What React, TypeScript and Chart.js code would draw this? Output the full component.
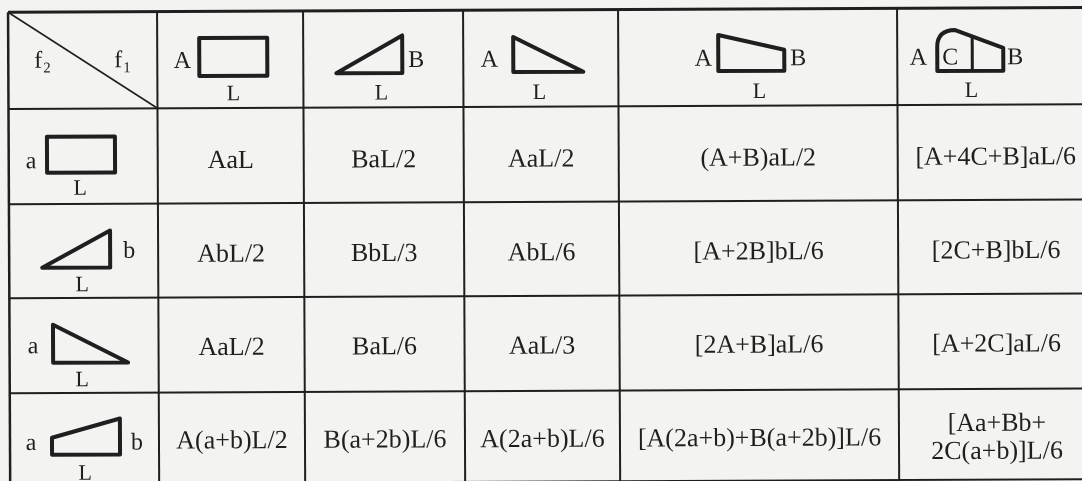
import { useEffect, useRef } from "react";
import { Chart, registerables } from "chart.js";

Chart.register(...registerables);

// ---------------- data ----------------
// header row: diagram kind of f1 and its labels
const colKinds = ["rect", "rise", "fall", "trap", "para"];
const colLeftLabels = ["A", "", "A", "A", "A"];
const colRightLabels = ["", "B", "", "B", "B"];
const colMidLabels = ["", "", "", "", "C"];
const colBaseLabels = ["L", "L", "L", "L", "L"];

// first column: diagram kind of f2 and its labels
const rowKinds = ["rect", "rise", "fall", "trap"];
const rowLeftLabels = ["a", "", "a", "a"];
const rowRightLabels = ["", "b", "", "b"];
const rowBaseLabels = ["L", "L", "L", "L"];

// corner cell
const cornerLabels = [
  ["f", "2"],
  ["f", "1"],
];

// results table
const formulasRect = ["AaL", "BaL/2", "AaL/2", "(A+B)aL/2", "[A+4C+B]aL/6"];
const formulasRise = ["AbL/2", "BbL/3", "AbL/6", "[A+2B]bL/6", "[2C+B]bL/6"];
const formulasFall = ["AaL/2", "BaL/6", "AaL/3", "[2A+B]aL/6", "[A+2C]aL/6"];
const formulasTrap = [
  "A(a+b)L/2",
  "B(a+2b)L/6",
  "A(2a+b)L/6",
  "[A(2a+b)+B(a+2b)]L/6",
  "[Aa+Bb+\n2C(a+b)]L/6",
];
const formulaRows = [formulasRect, formulasRise, formulasFall, formulasTrap];

// ---------------- layout / style ----------------
const W = 1082;
const H = 481;
const COL_EDGES = [8, 157, 303, 463, 618, 897, 1093];
const ROW_EDGES = [12.3, 109, 204.3, 298.3, 393.3, 484];
const TILT = -0.0045;
const BG = "#f3f3f1";
const INK = "#1f1f1f";
const SERIF = '"Liberation Serif", "Times New Roman", serif';

// icon layout in header cells (relative to cell left / top)
const HEADER_ICON = [
  { x: 42, b: 64.7, w: 68, hL: 38, hR: 38, aX: -17, bX: 0, lX: 34 },
  { x: 33, b: 62.4, w: 66, hL: 0, hR: 37.5, aX: 0, bX: 14, lX: 45 },
  { x: 50, b: 62, w: 70, hL: 35, hR: 0, aX: -24, bX: 0, lX: 26 },
  { x: 100, b: 62, w: 66, hL: 36, hR: 21, aX: -15, bX: 14, lX: 41 },
  { x: 40, b: 63, w: 66, hL: 24, hR: 23, aX: -19, bX: 12, lX: 34, peak: 41, peakX: 18, midX: 35, cX: 13 },
];
const HEADER_SIDE_BASE = 56.5;
const HEADER_L_BASE = 89;

const ROW_ICON = [
  { x: 38.3, b: 64, w: 68, hL: 36, hR: 36, aX: -16, bX: 0, lX: 33, sideBase: 59.3, lBase: 86 },
  { x: 33, b: 63.7, w: 68, hL: 0, hR: 37, aX: 0, bX: 19, lX: 40, sideBase: 54, lBase: 87.4 },
  { x: 43.5, b: 64.7, w: 75, hL: 38, hR: 0, aX: -20, bX: 0, lX: 29, sideBase: 55, lBase: 88.4 },
  { x: 42, b: 61.7, w: 68, hL: 17, hR: 36, aX: -21, bX: 17, lX: 33, sideBase: 56.7, lBase: 86.7 },
];
const FORMULA_BASE = [60, 58.4, 57.7, 56];
const FORMULA_LINE = 28;

type Icon = {
  x: number; b: number; w: number; hL: number; hR: number;
  aX: number; bX: number; lX: number;
  peak?: number; peakX?: number; midX?: number; cX?: number;
};

const tablePlugin = {
  id: "formulaTable",
  beforeDraw(chart: any) {
    const { ctx } = chart;
    ctx.save();
    ctx.fillStyle = BG;
    ctx.fillRect(0, 0, chart.width, chart.height);
    ctx.restore();
  },
  afterDraw(chart: any) {
    const { ctx } = chart;
    const xs = chart.scales.x;
    const ys = chart.scales.y;
    const px = (v: number) => xs.getPixelForValue(v);
    const py = (v: number) => ys.getPixelForValue(v);

    ctx.save();
    ctx.rotate(TILT);
    ctx.strokeStyle = INK;
    ctx.fillStyle = INK;
    ctx.lineCap = "butt";

    const x0 = COL_EDGES[0];
    const x1 = COL_EDGES[COL_EDGES.length - 1];
    const y0 = ROW_EDGES[0];
    const y1 = ROW_EDGES[ROW_EDGES.length - 1];

    // grid lines
    ROW_EDGES.forEach((r, i) => {
      ctx.lineWidth = i === 0 ? 3 : 2;
      ctx.beginPath();
      ctx.moveTo(px(x0), py(r));
      ctx.lineTo(px(x1), py(r));
      ctx.stroke();
    });
    COL_EDGES.forEach((c, i) => {
      ctx.lineWidth = i === 0 ? 2.5 : 2;
      ctx.beginPath();
      ctx.moveTo(px(c), py(y0));
      ctx.lineTo(px(c), py(y1));
      ctx.stroke();
    });

    // corner diagonal
    ctx.lineWidth = 1.6;
    ctx.beginPath();
    ctx.moveTo(px(COL_EDGES[0]), py(ROW_EDGES[0]));
    ctx.lineTo(px(COL_EDGES[1]), py(ROW_EDGES[1]));
    ctx.stroke();

    // corner labels f2 / f1
    const cornerX = [COL_EDGES[0] + 26, COL_EDGES[0] + 106];
    cornerLabels.forEach(([main, sub], i) => {
      const bx = px(cornerX[i]);
      const by = py(ROW_EDGES[0] + 55.5);
      ctx.textAlign = "left";
      ctx.textBaseline = "alphabetic";
      ctx.font = `24px ${SERIF}`;
      ctx.fillText(main, bx, by);
      const wMain = ctx.measureText(main).width;
      ctx.font = `15px ${SERIF}`;
      ctx.fillText(sub, bx + wMain + 1, by + 5);
    });

    const drawIcon = (kind: string, cl: number, ct: number, ic: Icon) => {
      const L = cl + ic.x;
      const B = ct + ic.b;
      const R = L + ic.w;
      ctx.lineWidth = 4;
      ctx.lineJoin = "round";
      ctx.beginPath();
      if (kind === "rect") {
        ctx.moveTo(px(L), py(B));
        ctx.lineTo(px(L), py(B - ic.hL));
        ctx.lineTo(px(R), py(B - ic.hR));
        ctx.lineTo(px(R), py(B));
        ctx.closePath();
      } else if (kind === "rise") {
        ctx.moveTo(px(L), py(B));
        ctx.lineTo(px(R), py(B - ic.hR));
        ctx.lineTo(px(R), py(B));
        ctx.closePath();
      } else if (kind === "fall") {
        ctx.moveTo(px(L), py(B - ic.hL));
        ctx.lineTo(px(L), py(B));
        ctx.lineTo(px(R), py(B));
        ctx.closePath();
      } else if (kind === "trap") {
        ctx.moveTo(px(L), py(B));
        ctx.lineTo(px(L), py(B - ic.hL));
        ctx.lineTo(px(R), py(B - ic.hR));
        ctx.lineTo(px(R), py(B));
        ctx.closePath();
      } else if (kind === "para") {
        const pk = ic.peak ?? 40;
        const pkx = L + (ic.peakX ?? 18);
        ctx.moveTo(px(L), py(B));
        ctx.lineTo(px(L), py(B - ic.hL));
        ctx.quadraticCurveTo(px(L), py(B - pk), px(pkx), py(B - pk));
        ctx.lineTo(px(R), py(B - ic.hR));
        ctx.lineTo(px(R), py(B));
        ctx.closePath();
        ctx.stroke();
        // middle ordinate C
        const mx = L + (ic.midX ?? 33);
        const t = (mx - pkx) / (R - pkx);
        const topY = B - (pk + (ic.hR - pk) * t);
        ctx.lineWidth = 3;
        ctx.beginPath();
        ctx.moveTo(px(mx), py(B));
        ctx.lineTo(px(mx), py(topY));
      }
      ctx.stroke();
    };

    // header row icons
    colKinds.forEach((kind, j) => {
      const cl = COL_EDGES[j + 1];
      const ct = ROW_EDGES[0];
      const ic = HEADER_ICON[j] as Icon;
      drawIcon(kind, cl, ct, ic);
      ctx.textAlign = "center";
      ctx.textBaseline = "alphabetic";
      ctx.font = `24px ${SERIF}`;
      const L = cl + ic.x;
      const R = L + ic.w;
      if (colLeftLabels[j]) ctx.fillText(colLeftLabels[j], px(L + ic.aX), py(ct + HEADER_SIDE_BASE));
      if (colRightLabels[j]) ctx.fillText(colRightLabels[j], px(R + ic.bX), py(ct + HEADER_SIDE_BASE));
      if (colMidLabels[j]) ctx.fillText(colMidLabels[j], px(L + (ic.cX ?? 0)), py(ct + HEADER_SIDE_BASE));
      ctx.font = `22px ${SERIF}`;
      ctx.fillText(colBaseLabels[j], px(L + ic.lX), py(ct + HEADER_L_BASE));
    });

    // first column icons
    rowKinds.forEach((kind, i) => {
      const cl = COL_EDGES[0];
      const ct = ROW_EDGES[i + 1];
      const ic = ROW_ICON[i];
      drawIcon(kind, cl, ct, ic as Icon);
      ctx.textAlign = "center";
      ctx.textBaseline = "alphabetic";
      ctx.font = `24px ${SERIF}`;
      const L = cl + ic.x;
      const R = L + ic.w;
      if (rowLeftLabels[i]) ctx.fillText(rowLeftLabels[i], px(L + ic.aX), py(ct + ic.sideBase));
      if (rowRightLabels[i]) ctx.fillText(rowRightLabels[i], px(R + ic.bX), py(ct + ic.sideBase));
      ctx.font = `22px ${SERIF}`;
      ctx.fillText(rowBaseLabels[i], px(L + ic.lX), py(ct + ic.lBase));
    });

    // formulas
    ctx.font = `26px ${SERIF}`;
    ctx.textAlign = "center";
    ctx.textBaseline = "alphabetic";
    formulaRows.forEach((row, i) => {
      const ct = ROW_EDGES[i + 1];
      row.forEach((text, j) => {
        const cx = (COL_EDGES[j + 1] + COL_EDGES[j + 2]) / 2;
        const lines = text.split("\n");
        lines.forEach((ln, k) => {
          const base = ct + FORMULA_BASE[i] + (k - (lines.length - 1) / 2) * FORMULA_LINE;
          ctx.fillText(ln, px(cx), py(base));
        });
      });
    });

    ctx.restore();
  },
};

export default function App() {
  const ref = useRef<HTMLCanvasElement>(null);
  useEffect(() => {
    if (!ref.current) return;
    const chart = new Chart(ref.current, {
      type: "scatter",
      data: { datasets: [{ data: [], pointRadius: 0 }] },
      options: {
        animation: false,
        responsive: false,
        devicePixelRatio: 1,
        events: [],
        layout: { padding: 0 },
        plugins: {
          legend: { display: false },
          tooltip: { enabled: false },
          title: { display: false },
        },
        scales: {
          x: { type: "linear", min: 0, max: W, display: false },
          y: { type: "linear", min: 0, max: H, reverse: true, display: false },
        },
      },
      plugins: [tablePlugin],
    });
    return () => chart.destroy();
  }, []);
  return (
    <div style={{ position: "fixed", left: 0, top: 0, width: W, height: H, background: BG }}>
      <canvas ref={ref} width={W} height={H} style={{ display: "block" }} />
    </div>
  );
}
